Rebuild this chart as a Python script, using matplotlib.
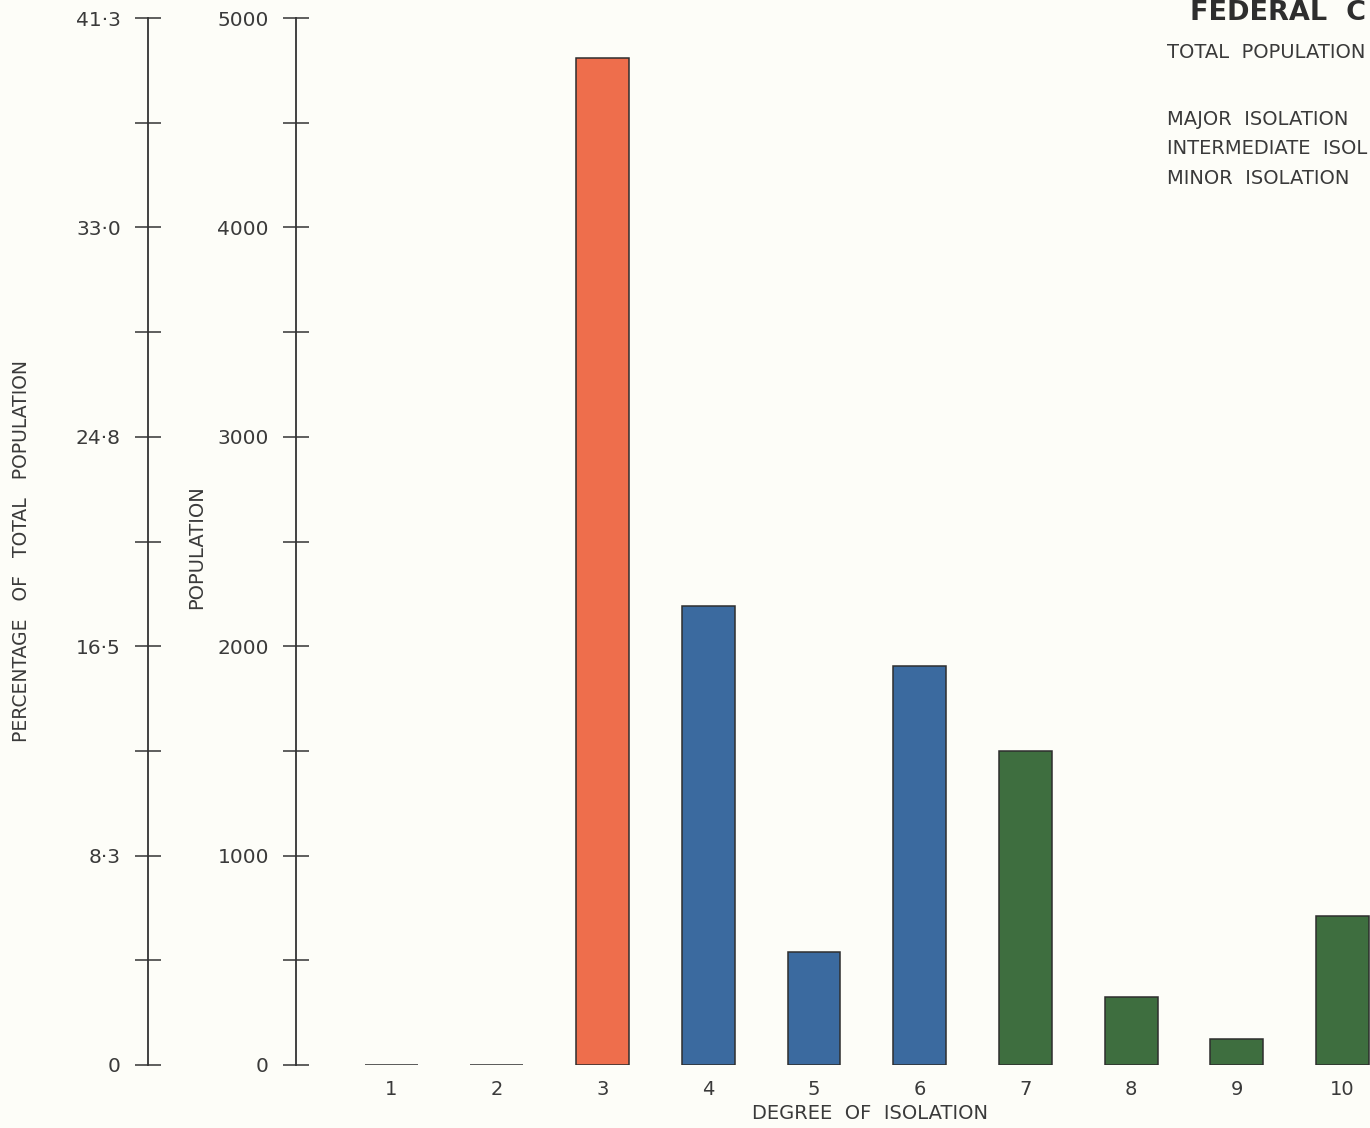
import matplotlib
matplotlib.use("Agg")
import matplotlib.pyplot as plt
from matplotlib.ticker import FixedLocator, FixedFormatter

# ---- data ----
degrees = [1, 2, 3, 4, 5, 6, 7, 8, 9, 10]
degree_labels = ["1", "2", "3", "4", "5", "6", "7", "8", "9", "10"]
population = [0, 0, 4810, 2190, 540, 1905, 1500, 325, 124, 712]
group = ["major", "major", "major", "intermediate", "intermediate", "intermediate",
         "minor", "minor", "minor", "minor"]
pop_ticks = [0, 1000, 2000, 3000, 4000, 5000]
pop_tick_labels = ["0", "1000", "2000", "3000", "4000", "5000"]
pct_tick_labels = ["0", "8·3", "16·5", "24·8", "33·0", "41·3"]
minor_ticks = [500, 1500, 2500, 3500, 4500]

group_colors = {"major": "#ee6e4c", "intermediate": "#3b6a9f", "minor": "#3e6e3f"}
txt = "#3a3a3a"
bg = "#fdfdf8"

W, H = 1370, 1128
plt.rcParams["font.family"] = ["DejaVu Sans"]
fig = plt.figure(figsize=(W / 100, H / 100), dpi=100, facecolor=bg)

bottom = (H - 1065) / H
top = (H - 18) / H
ax_left = 296 / W
ax = fig.add_axes([ax_left, bottom, 1 - ax_left, top - bottom])
ax.set_facecolor(bg)

colors = [group_colors[g] for g in group]
ax.bar(degrees, population, width=0.5, color=colors, edgecolor="#2e2e2e",
       linewidth=1.1, zorder=3)
ax.set_xlim(0.10, 10.26)
ax.set_ylim(0, 5000)

for s in ["top", "right", "bottom"]:
    ax.spines[s].set_visible(False)
ax.spines["left"].set_color("#333333")
ax.spines["left"].set_linewidth(1.3)

ax.yaxis.set_major_locator(FixedLocator(pop_ticks))
ax.yaxis.set_major_formatter(FixedFormatter(pop_tick_labels))
ax.yaxis.set_minor_locator(FixedLocator(minor_ticks))
ax.tick_params(axis="y", which="both", direction="inout", length=19, width=1.1,
               color="#333333", labelsize=14.5, labelcolor=txt, pad=10)
ax.set_xticks(degrees)
ax.set_xticklabels(degree_labels)
ax.tick_params(axis="x", length=0, labelsize=14, labelcolor=txt, pad=11)
ax.set_xlabel("DEGREE  OF  ISOLATION", fontsize=14, color=txt)
ax.xaxis.set_label_coords(870 / W, 1 - 1104 / H, transform=fig.transFigure)
ax.set_ylabel("POPULATION", fontsize=14, color=txt)
ax.yaxis.set_label_coords(197 / W, 1 - 547 / H, transform=fig.transFigure)
ax.yaxis.label.set_va("center")

# percentage axis
ax2 = fig.add_axes([148 / W, bottom, 0.0005, top - bottom])
ax2.patch.set_alpha(0)
ax2.set_ylim(0, 5000)
for s in ["top", "right", "bottom"]:
    ax2.spines[s].set_visible(False)
ax2.spines["left"].set_color("#333333")
ax2.spines["left"].set_linewidth(1.3)
ax2.set_xticks([])
ax2.yaxis.set_major_locator(FixedLocator(pop_ticks))
ax2.yaxis.set_major_formatter(FixedFormatter(pct_tick_labels))
ax2.yaxis.set_minor_locator(FixedLocator(minor_ticks))
ax2.tick_params(axis="y", which="both", direction="inout", length=19, width=1.1,
                color="#333333", labelsize=14.5, labelcolor=txt, pad=10)
ax2.set_ylabel("PERCENTAGE   OF   TOTAL   POPULATION", fontsize=13.5, color=txt)
ax2.yaxis.set_label_coords(22 / W, 1 - 551 / H, transform=fig.transFigure)
ax2.yaxis.label.set_va("center")

# title / legend text block (cropped at right edge in original)
fig.text(1190 / W, 1 - 13 / H, "FEDERAL  C", fontsize=19.5,
         fontweight="bold", color="#2e2e2e", va="center", ha="left")
fig.text(1167 / W, 1 - 52 / H, "TOTAL  POPULATION", fontsize=14, color=txt,
         va="center", ha="left")
fig.text(1167 / W, 1 - 119 / H, "MAJOR  ISOLATION", fontsize=14, color=txt,
         va="center", ha="left")
fig.text(1167 / W, 1 - 149 / H, "INTERMEDIATE  ISOL", fontsize=14, color=txt,
         va="center", ha="left")
fig.text(1167 / W, 1 - 179 / H, "MINOR  ISOLATION", fontsize=14, color=txt,
         va="center", ha="left")

fig.savefig("out.png", dpi=100, facecolor=bg)
